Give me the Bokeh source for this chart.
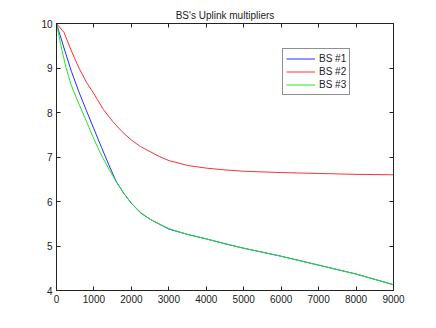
from bokeh.plotting import figure
from bokeh.models import LinearAxis, Range1d, Legend, LegendItem, FixedTicker
from bokeh.embed import file_html
from bokeh.resources import INLINE

# ---- data ----
bs1_x = [0, 200, 400, 600, 800, 1000, 1200, 1400, 1600, 1800, 2000, 2250, 2500, 2750, 3000,
         3500, 4000, 4500, 5000, 5500, 6000, 6500, 7000, 7500, 8000, 8500, 9000]
bs1_y = [10.0, 9.45, 8.92, 8.46, 8.04, 7.63, 7.22, 6.82, 6.44, 6.18, 5.96, 5.74, 5.60, 5.49, 5.38,
         5.26, 5.16, 5.05, 4.95, 4.86, 4.77, 4.67, 4.57, 4.47, 4.37, 4.25, 4.13]

bs2_x = [0, 200, 400, 600, 800, 1000, 1250, 1500, 1750, 2000, 2250, 2500, 2750, 3000,
         3500, 4000, 4500, 5000, 6000, 7000, 8000, 9000]
bs2_y = [10.0, 9.80, 9.38, 9.00, 8.68, 8.42, 8.07, 7.80, 7.57, 7.38, 7.23, 7.12, 7.01, 6.92,
         6.81, 6.75, 6.71, 6.68, 6.65, 6.63, 6.61, 6.60]

bs3_x = [0, 125, 250, 400, 600, 800, 1000, 1200, 1400, 1600, 1800, 2000, 2250, 2500, 2750, 3000,
         3500, 4000, 4500, 5000, 5500, 6000, 6500, 7000, 7500, 8000, 8500, 9000]
bs3_y = [10.0, 9.48, 9.02, 8.60, 8.19, 7.80, 7.40, 7.04, 6.73, 6.44, 6.18, 5.96, 5.75, 5.60, 5.49, 5.39,
         5.26, 5.16, 5.05, 4.95, 4.86, 4.77, 4.67, 4.57, 4.47, 4.37, 4.25, 4.13]

series_names = ["BS #1", "BS #2", "BS #3"]
x_ticks = [0, 1000, 2000, 3000, 4000, 5000, 6000, 7000, 8000, 9000]
y_ticks = [4, 5, 6, 7, 8, 9, 10]
title_text = "BS's Uplink multipliers"

FONT = "Liberation Sans"

p = figure(frame_width=337, frame_height=267, output_backend="svg", toolbar_location=None,
           x_range=Range1d(0, 9000), y_range=Range1d(4, 10),
           x_axis_location=None, y_axis_location=None,
           min_border_left=56, min_border_right=30, min_border_bottom=25, min_border_top=23,
           title=title_text)
p.title.align = "center"
p.title.text_font = FONT
p.title.text_font_size = "10px"
p.title.text_font_style = "normal"
p.title.text_color = "#222222"
p.title.standoff = 5
p.grid.visible = False
p.outline_line_color = "#222222"
p.outline_line_width = 1
p.background_fill_color = "white"
p.border_fill_color = "white"

def mk_axis(ticks, show_labels):
    ax = LinearAxis(ticker=FixedTicker(ticks=ticks))
    ax.major_tick_in = 4
    ax.major_tick_out = 0
    ax.minor_tick_line_color = None
    ax.axis_line_color = "#222222"
    ax.major_tick_line_color = "#222222"
    ax.major_label_text_font = FONT
    if show_labels:
        ax.major_label_text_font_size = "10px"
        ax.major_label_text_color = "#222222"
        ax.major_label_standoff = 4
    else:
        ax.major_label_text_font_size = "1px"
        ax.major_label_text_color = None
        ax.major_label_standoff = 0
    return ax

p.add_layout(mk_axis(x_ticks, True), "below")
p.add_layout(mk_axis(y_ticks, True), "left")
p.add_layout(mk_axis(x_ticks, False), "above")
p.add_layout(mk_axis(y_ticks, False), "right")

r1 = p.line(bs1_x, bs1_y, line_color="#2a2aff", line_width=1)
r2 = p.line(bs2_x, bs2_y, line_color="#ff3030", line_width=1)
r3 = p.line(bs3_x, bs3_y, line_color="#22e622", line_width=1)

legend = Legend(items=[LegendItem(label=series_names[0], renderers=[r1]),
                       LegendItem(label=series_names[1], renderers=[r2]),
                       LegendItem(label=series_names[2], renderers=[r3])],
                location=(226, 195), orientation="vertical")
legend.label_text_font = FONT
legend.label_text_font_size = "10px"
legend.label_text_color = "#222222"
legend.glyph_width = 29
legend.glyph_height = 13
legend.label_height = 13
legend.label_standoff = 4
legend.spacing = 0
legend.padding = 3
legend.margin = 0
legend.border_line_color = "#222222"
legend.border_line_width = 1
legend.background_fill_color = "white"
legend.background_fill_alpha = 1.0
p.add_layout(legend, "center")

open("out.html", "w").write(file_html(p, INLINE))
